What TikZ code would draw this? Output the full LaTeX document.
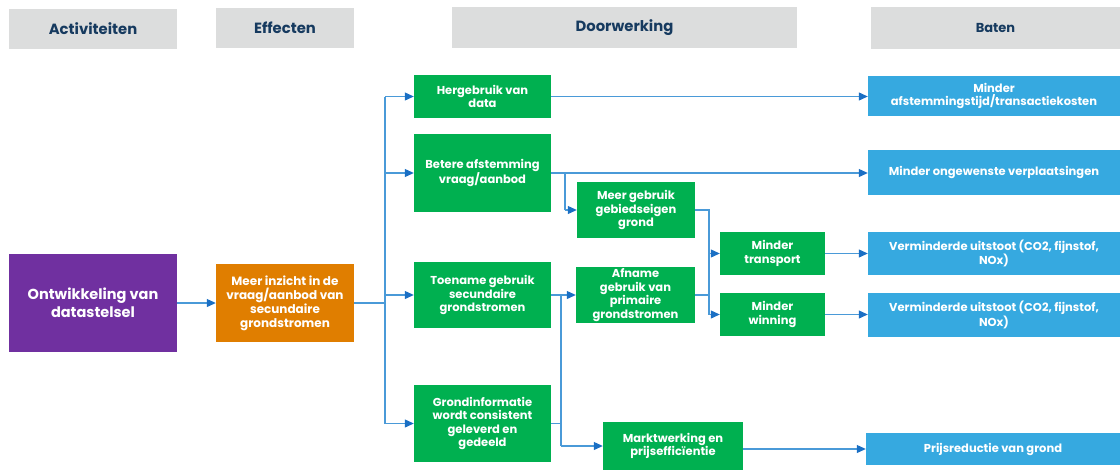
\documentclass[tikz,border=0pt]{standalone}
\usepackage{fontspec}
\setmainfont{Poppins}
\usetikzlibrary{arrows.meta,calc}
\definecolor{hdrfill}{HTML}{DCDDDD}
\definecolor{hdrtext}{HTML}{163A5F}
\definecolor{purp}{HTML}{7030A0}
\definecolor{oran}{HTML}{E07E00}
\definecolor{grn}{HTML}{00B050}
\definecolor{blu}{HTML}{36A9E0}
\definecolor{linec}{HTML}{4A9AD8}
\definecolor{tipc}{HTML}{1A6FC4}
\tikzset{
  boxbase/.style={rectangle, inner sep=0pt, align=center, font=\bfseries\fontsize{11.5}{13.5}\selectfont, text=white},
  hdr/.style={boxbase, fill=hdrfill, text=hdrtext, font=\bfseries\fontsize{14.8}{17}\selectfont},
  hdrsmall/.style={hdr, font=\bfseries\fontsize{13}{15}\selectfont},
  actbox/.style={boxbase, fill=purp, font=\bfseries\fontsize{14.5}{18}\selectfont},
  effbox/.style={boxbase, fill=oran, font=\bfseries\fontsize{12}{14}\selectfont},
  grnbox/.style={boxbase, fill=grn},
  blubox/.style={boxbase, fill=blu},
  conn/.style={draw=linec, line width=1.1pt},
  arr/.style={conn, -{Triangle[length=9pt,width=8pt,color=tipc]}},
}
% \bx{name}{style}{x1}{y1}{x2}{y2}{text}
\newcommand{\bx}[7]{%
  \node[#2, minimum width={(#5-#3)*1pt}, minimum height={(#6-#4)*1pt}] (#1) at ({(#3+#5)/2},{(#4+#6)/2}) {#7};}
\begin{document}
\begin{tikzpicture}[x=1pt,y=-1pt]
\useasboundingbox (0,0) rectangle (1120,471);
% headers
\bx{hAct}{hdr}{9}{9}{177}{49}{Activiteiten}
\bx{hEff}{hdr}{216}{8}{354}{48}{Effecten}
\bx{hDoor}{hdr}{452}{7}{797}{48}{Doorwerking}
\bx{hBat}{hdrsmall}{871}{7}{1120}{49}{Baten}
% main boxes
\bx{act}{actbox}{9}{254}{177}{352}{Ontwikkeling van\\datastelsel}
\bx{eff}{effbox}{216}{264}{354}{342}{Meer inzicht in de\\vraag/aanbod van\\secundaire\\grondstromen}
\bx{herg}{grnbox}{414}{75}{551}{118}{Hergebruik van\\data}
\bx{bet}{grnbox}{414}{134}{551}{212}{Betere afstemming\\vraag/aanbod}
\bx{toe}{grnbox}{414}{262}{551}{328}{Toename gebruik\\secundaire\\grondstromen}
\bx{grond}{grnbox}{414}{385}{551}{462}{Grondinformatie\\wordt consistent\\geleverd en\\gedeeld}
\bx{meer}{grnbox}{577}{182}{695}{238}{Meer gebruik\\gebiedseigen\\grond}
\bx{afn}{grnbox}{576}{267}{695}{323}{Afname\\gebruik van\\primaire\\grondstromen}
\bx{mtr}{grnbox}{720}{232}{825}{275}{Minder\\transport}
\bx{mwin}{grnbox}{720}{293}{825}{336}{Minder\\winning}
\bx{markt}{grnbox}{603}{422}{743}{470}{Marktwerking en\\prijsefficïentie}
\bx{b1}{blubox}{868}{76}{1120}{116}{Minder\\afstemmingstijd/transactiekosten}
\bx{b2}{blubox}{868}{150}{1120}{195}{Minder ongewenste verplaatsingen}
\bx{b3}{blubox}{868}{232}{1120}{275}{Verminderde uitstoot (CO2, fijnstof,\\NOx)}
\bx{b4}{blubox}{868}{293}{1120}{337}{Verminderde uitstoot (CO2, fijnstof,\\NOx)}
\bx{b5}{blubox}{866}{433}{1120}{465}{Prijsreductie van grond}
% junction coordinates
\coordinate (t1) at (385,303);
\coordinate (j1) at (565,173);
\coordinate (j2) at (709,210);
\coordinate (j3) at (561,295);
% connectors
\draw[arr] (act.east) -- (eff.west |- act.east);
\draw[conn] (eff.east |- t1) -- (t1);
\draw[conn] (t1 |- herg.west) -- (t1 |- grond.west);
\draw[arr] (t1 |- herg.west) -- (herg.west);
\draw[arr] (t1 |- bet.west) -- (bet.west);
\draw[arr] (t1 |- toe.west) -- (toe.west);
\draw[arr] (t1 |- grond.west) -- (grond.west);
\draw[arr] (herg.east) -- (b1.west |- herg.east);
\draw[arr] (bet.east) -- (b2.west |- bet.east);
\draw[conn] (j1) -- (j1 |- meer.west);
\draw[arr] (j1 |- meer.west) -- (meer.west);
\draw[conn] (meer.east) -- (j2) -- (j2 |- mwin.west);
\draw[conn] (afn.east) -- (j2 |- afn.east);
\draw[arr] (j2 |- mtr.west) -- (mtr.west);
\draw[arr] (j2 |- mwin.west) -- (mwin.west);
\draw[arr] (toe.east) -- (afn.west |- toe.east);
\draw[conn] (j3) -- (j3 |- markt.west);
\draw[conn] (grond.east) -- (j3 |- grond.east);
\draw[arr] (j3 |- markt.west) -- (markt.west);
\draw[arr] (mtr.east) -- (b3.west |- mtr.east);
\draw[arr] (mwin.east) -- (b4.west |- mwin.east);
\draw[arr] (markt.east |- b5.west) -- (b5.west);
\end{tikzpicture}
\end{document}
